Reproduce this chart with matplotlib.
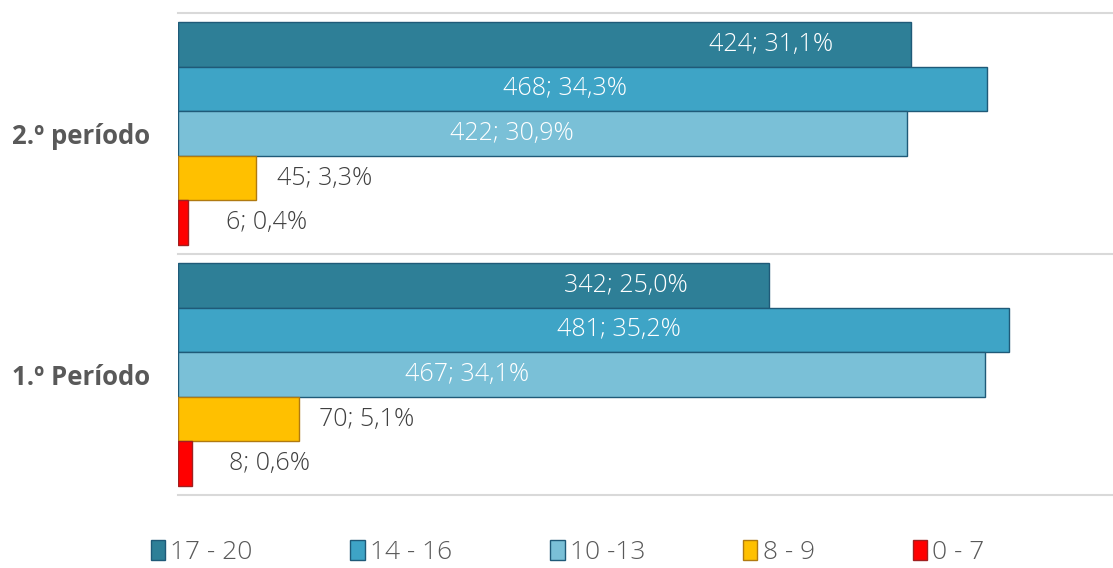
import numpy as np
import matplotlib.pyplot as plt
from matplotlib.patches import Patch

# DATA ================================================================
categories = ['1.º Período', '2.º período']
series = ['17 - 20', '14 - 16', '10 -13', '8 - 9', '0 - 7']
counts = {
    '17 - 20': [342, 424],
    '14 - 16': [481, 468],
    '10 -13': [467, 422],
    '8 - 9': [70, 45],
    '0 - 7': [8, 6],
}
percents = {
    '17 - 20': ['25,0%', '31,1%'],
    '14 - 16': ['35,2%', '34,3%'],
    '10 -13': ['34,1%', '30,9%'],
    '8 - 9': ['5,1%', '3,3%'],
    '0 - 7': ['0,6%', '0,4%'],
}

# label positions (data units), placed by hand like in the original sheet
label_x = {
    '17 - 20': [259, 343],
    '14 - 16': [255, 224],
    '10 -13': [167, 193],
    '8 - 9': [109, 85],
    '0 - 7': [53, 51],
}

# STYLE ===============================================================
colors = ['#2E7F97', '#3EA4C6', '#7AC0D7', '#FFC000', '#FF0000']
edges = ['#1F5A78', '#1F5A78', '#1F5A78', '#B07A10', '#A02020']
label_colors = ['white', 'white', 'white', '#404040', '#404040']
txt = '#595959'
font = 'Open Sans'

fig = plt.figure(figsize=(11.13, 5.68), dpi=100)
ax = fig.add_axes([0.16, 0.1285, 0.84, 0.8486])

h = 0.185
y = np.arange(len(categories))
for i, s in enumerate(series):
    yy = y + (2 - i) * h
    ax.barh(yy, counts[s], height=h, color=colors[i], edgecolor=edges[i],
            linewidth=1.0, zorder=3)
    for j in range(len(categories)):
        ax.text(label_x[s][j], yy[j], f'{counts[s][j]}; {percents[s][j]}',
                ha='center', va='center', fontsize=18, color=label_colors[i],
                family=font, fontweight='light', zorder=4)

ax.set_xlim(0, 541)
ax.set_ylim(-0.5, 1.5)
for g in [-0.5, 0.5, 1.5]:
    ax.axhline(g, color='#D9D9D9', linewidth=1.5, zorder=1, clip_on=False)

ax.set_yticks(y)
ax.set_yticklabels(categories, fontsize=18.5, fontweight='bold', color=txt,
                   family=font)
ax.tick_params(axis='y', length=0, pad=20)
ax.set_xticks([])
for sp in ax.spines.values():
    sp.set_visible(False)

handles = [Patch(facecolor=colors[i], edgecolor=edges[i], label=s)
           for i, s in enumerate(series)]
leg = fig.legend(handles=handles, loc='center', ncol=5,
                 bbox_to_anchor=(0.51, 0.027), frameon=False,
                 prop={'family': font, 'size': 19, 'weight': 'light'},
                 handlelength=0.55, handleheight=0.8, handletextpad=0.2,
                 columnspacing=3.7)
for t in leg.get_texts():
    t.set_color(txt)

fig.savefig('out.png', dpi=100)
